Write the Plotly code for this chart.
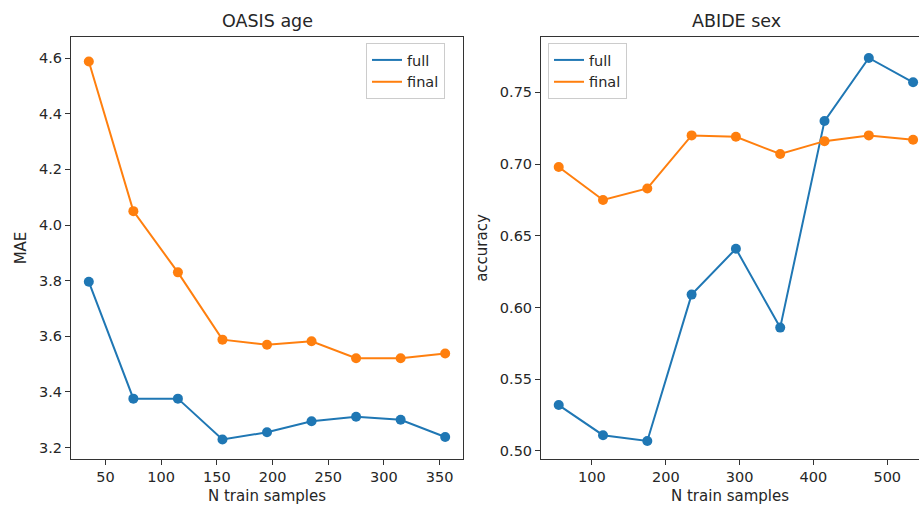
import plotly.graph_objects as go

# --- data -------------------------------------------------------------
oasis_n = [35, 75, 115, 155, 195, 235, 275, 315, 355]
oasis_full = [3.796, 3.376, 3.376, 3.229, 3.255, 3.295, 3.311, 3.300, 3.238]
oasis_final = [4.588, 4.050, 3.830, 3.588, 3.570, 3.582, 3.521, 3.521, 3.538]

abide_n = [55, 115, 175, 235, 295, 355, 415, 475, 535]
abide_full = [0.532, 0.511, 0.507, 0.609, 0.641, 0.586, 0.730, 0.774, 0.757]
abide_final = [0.698, 0.675, 0.683, 0.720, 0.719, 0.707, 0.716, 0.720, 0.717]

panel_titles = ["OASIS age", "ABIDE sex"]
y_labels = ["MAE", "accuracy"]
x_label = "N train samples"
series_names = ["full", "final"]

BLUE = "#1f77b4"
ORANGE = "#ff7f0e"
TEXT = "#262626"
FONT = "DejaVu Sans, Liberation Sans, sans-serif"
W, H = 919, 507

fig = go.Figure()


def add_series(x, y, name, color, xa, ya, legend):
    fig.add_trace(go.Scatter(
        x=x, y=y, mode="lines", name=name, legend=legend,
        line=dict(color=color, width=2), xaxis=xa, yaxis=ya))
    fig.add_trace(go.Scatter(
        x=x, y=y, mode="markers", showlegend=False,
        marker=dict(color=color, size=10), xaxis=xa, yaxis=ya))


add_series(oasis_n, oasis_full, series_names[0], BLUE, "x", "y", "legend")
add_series(oasis_n, oasis_final, series_names[1], ORANGE, "x", "y", "legend")
add_series(abide_n, abide_full, series_names[0], BLUE, "x2", "y2", "legend2")
add_series(abide_n, abide_final, series_names[1], ORANGE, "x2", "y2", "legend2")

y_dom = [1 - 459 / H, 1 - 37 / H]
axis_common = dict(
    showgrid=False, zeroline=False, showline=True, linecolor="#333",
    linewidth=1, ticks="outside", ticklen=5, tickwidth=1, tickcolor="#333",
    tickfont=dict(family=FONT, size=14.5, color=TEXT),
)
title_font = dict(family=FONT, size=15, color=TEXT)
legend_common = dict(
    xanchor="left", yanchor="top", bgcolor="rgba(255,255,255,0.8)",
    bordercolor="#cccccc", borderwidth=1,
    font=dict(family=FONT, size=14.5, color=TEXT),
)

fig.update_layout(
    width=W, height=H,
    margin=dict(l=0, r=0, t=0, b=0),
    paper_bgcolor="white", plot_bgcolor="white",
    font=dict(family=FONT, color=TEXT),
    xaxis=dict(axis_common, domain=[71 / W, 463 / W], range=[19, 371],
               tickvals=[50, 100, 150, 200, 250, 300, 350], mirror=True,
               anchor="y", title=dict(text=x_label, font=title_font, standoff=6)),
    yaxis=dict(axis_common, domain=y_dom, range=[3.159, 4.676],
               tickvals=[3.2, 3.4, 3.6, 3.8, 4.0, 4.2, 4.4, 4.6],
               tickformat=".1f", mirror=True, anchor="x",
               title=dict(text=y_labels[0], font=title_font, standoff=8)),
    xaxis2=dict(axis_common, domain=[541 / W, 1.0], range=[31, 543],
                tickvals=[100, 200, 300, 400, 500], mirror=True,
                anchor="y2", title=dict(text=x_label, font=title_font, standoff=6)),
    yaxis2=dict(axis_common, domain=y_dom, range=[0.4944, 0.7886],
                tickvals=[0.50, 0.55, 0.60, 0.65, 0.70, 0.75],
                tickformat=".2f", mirror=False, anchor="x2",
                title=dict(text=y_labels[1], font=title_font, standoff=8)),
    legend=dict(legend_common, x=366 / W, y=1 - 43 / H),
    legend2=dict(legend_common, x=548 / W, y=1 - 43 / H),
    annotations=[
        dict(text=panel_titles[0], x=(71 + 463) / 2 / W, y=1 - 33 / H,
             xref="paper", yref="paper", xanchor="center", yanchor="bottom",
             showarrow=False, font=dict(family=FONT, size=17.5, color=TEXT)),
        dict(text=panel_titles[1], x=(541 + 932) / 2 / W, y=1 - 33 / H,
             xref="paper", yref="paper", xanchor="center", yanchor="bottom",
             showarrow=False, font=dict(family=FONT, size=17.5, color=TEXT)),
    ],
)

fig.write_html("out.html")
